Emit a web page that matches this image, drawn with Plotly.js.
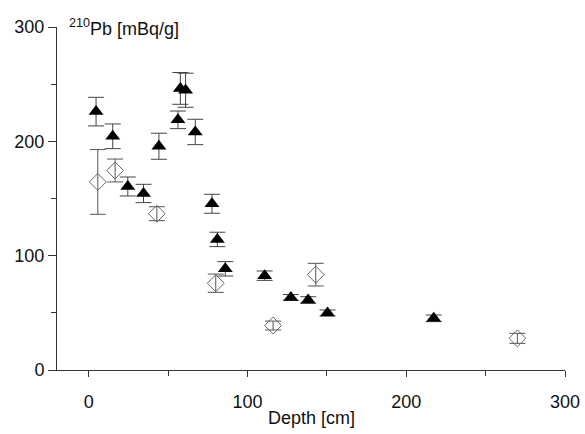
<!DOCTYPE html>
<html>
<head>
<meta charset="utf-8">
<script src="https://cdn.plot.ly/plotly-3.0.1.min.js"></script>
<style>html,body{margin:0;padding:0;background:#fff;}#chart{width:585px;height:434px;}</style>
</head>
<body>
<div id="chart"></div>
<script>
// Filled triangles
const triDepth = [4.6, 15.1, 24.6, 34.5, 44.2, 56.2, 57.7, 61.0, 67.1, 77.6, 81.0, 86.0, 110.8, 127.3, 138.2, 150.4, 217.3];
const triPb    = [226, 204.4, 160.5, 154.4, 195.7, 218.8, 246.3, 244.7, 208.2, 145.4, 114.2, 88.5, 82.5, 63.5, 61.2, 49.9, 45.2];
const triErr   = [12.5, 10.8, 8.3, 8.0, 11.4, 7.7, 13.9, 14.9, 11.1, 8.3, 6.3, 6.3, 4.1, 2.5, 2.9, 2.6, 2.9];
// Open diamonds
const diaDepth = [5.7, 16.6, 42.9, 80.0, 116.1, 143.0, 270.0];
const diaPb    = [164.5, 174.5, 136.7, 75.9, 38.9, 83.4, 27.7];
const diaErr   = [28.3, 10.0, 6.1, 8.0, 3.9, 9.9, 4.4];

const xTicks = [0, 100, 200, 300];
const yTicks = [0, 100, 200, 300];
const fontFam = 'Liberation Sans, Arial, sans-serif';
const fs = 18;

const traces = [
  {
    x: diaDepth, y: diaPb, type: 'scatter', mode: 'markers',
    error_y: {type: 'data', array: diaErr, visible: true, color: '#555', thickness: 1, width: 8},
    marker: {symbol: 'diamond-open', size: 13, color: '#666', line: {width: 1, color: '#666'}},
    cliponaxis: false, showlegend: false
  },
  {
    x: triDepth, y: triPb, type: 'scatter', mode: 'markers',
    error_y: {type: 'data', array: triErr, visible: true, color: '#444', thickness: 1, width: 8},
    marker: {symbol: 'triangle-up', size: 13, color: '#000'},
    cliponaxis: false, showlegend: false
  }
];

const layout = {
  width: 585, height: 434,
  margin: {l: 57, r: 20, t: 27, b: 64},
  paper_bgcolor: '#fff', plot_bgcolor: '#fff',
  font: {family: fontFam, size: fs, color: '#111'},
  xaxis: {
    range: [-20, 300], tickvals: xTicks, ticktext: xTicks.map(String),
    showgrid: false, zeroline: false, showline: true, linecolor: '#333', linewidth: 1,
    ticks: 'outside', ticklen: 6, tickcolor: '#333',
    minor: {tickvals: [50, 150, 250], ticks: 'outside', ticklen: 5, tickcolor: '#333'},
    ticklabelstandoff: 9,
    tickfont: {size: fs, family: fontFam, color: '#111'}
  },
  yaxis: {
    range: [0, 300], tickvals: yTicks, ticktext: yTicks.map(String),
    showgrid: false, zeroline: false, showline: true, linecolor: '#333', linewidth: 1,
    ticks: 'outside', ticklen: 8, tickcolor: '#333',
    minor: {tickvals: [50, 150, 250], ticks: 'outside', ticklen: 5, tickcolor: '#333'},
    tickfont: {size: fs, family: fontFam, color: '#111'}
  },
  annotations: [
    {text: '<sup>210</sup>Pb [mBq/g]', xref: 'paper', yref: 'paper', x: 0.02, y: 1.0,
     xanchor: 'left', yanchor: 'middle', showarrow: false, font: {size: fs, family: fontFam, color: '#111'}},
    {text: 'Depth [cm]', xref: 'paper', yref: 'paper', x: 0.5, y: -0.14,
     xanchor: 'center', yanchor: 'middle', showarrow: false, font: {size: fs, family: fontFam, color: '#111'}}
  ]
};

Plotly.newPlot('chart', traces, layout, {staticPlot: true, displayModeBar: false});
</script>
</body>
</html>
